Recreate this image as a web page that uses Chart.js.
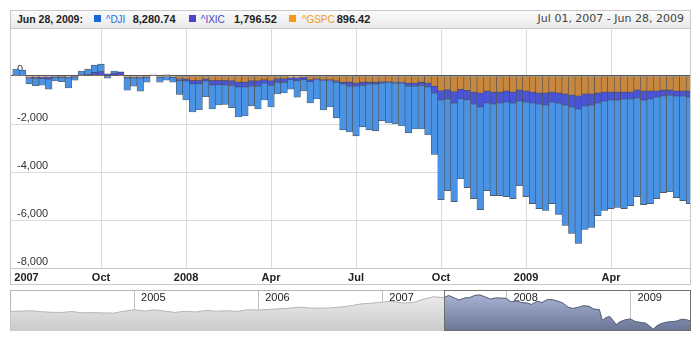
<!DOCTYPE html>
<html>
<head>
<meta charset="utf-8">
<title>^DJI, ^IXIC, ^GSPC weekly change</title>
<script src="https://cdn.jsdelivr.net/npm/chart.js@4.4.1/dist/chart.umd.min.js"></script>
<style>
  html, body { margin: 0; padding: 0; background: #fff; }
  body { position: relative; width: 700px; height: 340px; overflow: hidden;
         font-family: "Liberation Sans", Arial, sans-serif; }
  #header { position: absolute; left: 10px; top: 10px; width: 681px; height: 19px;
            box-sizing: border-box; border: 1px solid #c8c8c8;
            background: linear-gradient(#fbfbfb, #e9e9e9); z-index: 3; }
  #header span { position: absolute; top: 1px; font-size: 11px; line-height: 14px; white-space: nowrap; }
  #header .swatch { top: 3.5px; width: 7px; height: 7px; }
  #header .name { font-size: 10px; top: 1.5px; }
  #header .date { font-weight: bold; color: #222; font-size: 10.5px; }
  #header .val { font-weight: bold; color: #222; }
  #header .range { right: 6px; font-family: "DejaVu Sans", sans-serif; color: #444; }
  #mainWrap { position: absolute; left: 0; top: 0; width: 700px; height: 290px; }
  #frame { position: absolute; left: 10px; top: 28px; width: 681px; height: 257px;
           box-sizing: border-box; border: 1px solid #c8c8c8; pointer-events: none; z-index: 2; }
  #navWrap { position: absolute; left: 10px; top: 290px; width: 681px; height: 41px; }
  #navFrame { position: absolute; left: 10px; top: 290px; width: 681px; height: 41px;
              box-sizing: border-box; border: 1px solid #b8b8b8; pointer-events: none; }
</style>
</head>
<body>
<div id="header"></div>
<div id="mainWrap"><canvas id="main" width="700" height="290"></canvas></div>
<div id="frame"></div>
<div id="navFrame"></div>
<div id="navWrap"><canvas id="nav" width="681" height="41"></canvas></div>
<script>
// Weekly change of each index, stacked; week 0 = first week of July 2007
const gspcChange = [
  15, 10, -50, -45, -45, -45, -20, -25, -45, -15,
  15, 20, 25, 30, -20, 20, 25, -65, -60, -60,
  -30, 10, -30, 10, -40, -125, -125, -185, -185, -125,
  -185, -185, -185, -200, -255, -255, -200, -200, -160, -200,
  -115, -115, -75, -75, -35, -160, -115, -160, -160, -200,
  -255, -255, -295, -255, -255, -255, -230, -230, -255, -255,
  -295, -295, -255, -295, -420, -615, -575, -655, -550, -595,
  -670, -710, -625, -670, -670, -625, -670, -585, -625, -670,
  -710, -710, -670, -710, -750, -795, -835, -750, -750, -710,
  -670, -670, -670, -670, -670, -585, -625, -625, -625, -585,
  -585, -625, -625, -625
];
const ixicChange = [
  20, 15, -55, -60, -55, -100, -30, -30, -40, -25,
  25, 35, 115, 145, 90, 100, 135, -20, -20, -25,
  -20, 15, -20, 40, -20, -55, -85, -140, -140, -85,
  -190, -165, -190, -180, -205, -205, -220, -220, -135, -180,
  -140, -140, -85, -125, -125, -80, -45, -40, -40, -55,
  -80, -165, -125, -125, -80, -80, -65, -25, -40, -40,
  -125, -125, -125, -165, -290, -385, -385, -470, -395, -395,
  -495, -580, -500, -495, -455, -460, -455, -455, -460, -455,
  -455, -500, -415, -415, -460, -495, -540, -500, -460, -415,
  -370, -330, -330, -290, -290, -330, -375, -335, -250, -250,
  -210, -210, -210, -250
];
const djiChange = [
  255, 220, -220, -300, -280, -400, -160, -185, -415, -130,
  165, 230, 310, 320, -70, 85, 10, -505, -340, -545,
  -205, 25, -205, -170, -195, -590, -790, -1175, -1090, -655,
  -1000, -860, -805, -940, -1245, -1205, -830, -955, -705, -910,
  -495, -455, -385, -680, -465, -885, -800, -1215, -1090, -1490,
  -1910, -1910, -2075, -1740, -1910, -1950, -1575, -1700, -1705, -1785,
  -1950, -1785, -1825, -1995, -2560, -4150, -3815, -4110, -3335, -3660,
  -3945, -4275, -3650, -3820, -3860, -3940, -3985, -3530, -3940, -4190,
  -4360, -4395, -4230, -4645, -5020, -5270, -5600, -5145, -5100, -4690,
  -4565, -4525, -4480, -4565, -4440, -4110, -4360, -4355, -4235, -4025,
  -4025, -4230, -4355, -4440
];
const xTickWeeks = [1.6, 13, 26, 39, 52, 65, 78, 91];
const xTickLabels = ['2007', 'Oct', '2008', 'Apr', 'Jul', 'Oct', '2009', 'Apr'];
const yTickValues = [0, -2000, -4000, -6000, -8000];

// Header legend
const headerDate = 'Jun 28, 2009:';
const seriesNames = ['^DJI', '^IXIC', '^GSPC'];
const lastValues = ['8,280.74', '1,796.52', '896.42'];
const rangeText = 'Jul 01, 2007 - Jun 28, 2009';

// Navigator: ^DJI close, 2004 - 2009
const navDates = [
  '2004-01-02','2004-02-01','2004-03-01','2004-04-01','2004-05-01','2004-06-01',
  '2004-07-01','2004-08-01','2004-09-01','2004-10-01','2004-11-01','2004-12-01',
  '2005-01-01','2005-02-01','2005-03-01','2005-04-01','2005-05-01','2005-06-01',
  '2005-07-01','2005-08-01','2005-09-01','2005-10-01','2005-11-01','2005-12-01',
  '2006-01-01','2006-02-01','2006-03-01','2006-04-01','2006-05-01','2006-06-01',
  '2006-07-01','2006-08-01','2006-09-01','2006-10-01','2006-11-01','2006-12-01',
  '2007-01-01','2007-02-01','2007-03-01','2007-04-01','2007-05-01','2007-06-01',
  '2007-07-01','2007-07-15','2007-08-01','2007-08-15','2007-09-01','2007-09-15',
  '2007-10-01','2007-10-15','2007-11-01','2007-11-15','2007-12-01','2007-12-15',
  '2008-01-01','2008-01-15','2008-02-01','2008-02-15','2008-03-01','2008-03-15',
  '2008-04-01','2008-04-15','2008-05-01','2008-05-15','2008-06-01','2008-06-15',
  '2008-07-01','2008-07-15','2008-08-01','2008-08-15','2008-09-01','2008-09-15',
  '2008-10-01','2008-10-10','2008-10-20','2008-11-01','2008-11-20','2008-12-01',
  '2008-12-15','2009-01-01','2009-01-15','2009-02-01','2009-02-15','2009-03-01',
  '2009-03-09','2009-03-20','2009-04-01','2009-04-15','2009-05-01','2009-05-15',
  '2009-06-01','2009-06-15','2009-06-28'
];
const navDji = [
  10450, 10490, 10580, 10370, 10230, 10200,
  10400, 10120, 10170, 10100, 10050, 10450,
  10780, 10500, 10770, 10500, 10200, 10470,
  10300, 10640, 10480, 10570, 10440, 10800,
  10720, 10860, 10990, 11110, 11370, 11170,
  11150, 11180, 11380, 11680, 12080, 12220,
  12460, 12620, 12270, 12350, 13060, 13630,
  13410, 13900, 13360, 12900, 13360, 13440,
  13930, 14000, 13560, 13100, 13370, 13340,
  13260, 12500, 12740, 12350, 12260, 11950,
  12650, 12350, 13010, 12990, 12640, 12270,
  11350, 11060, 11330, 11660, 11540, 10920,
  10830, 8450, 9030, 9320, 7550, 8150,
  8560, 8780, 8200, 8000, 7850, 7060,
  6550, 7280, 7760, 8030, 8210, 8270,
  8720, 8610, 8280.74
];
const navYearTicks = [2005, 2006, 2007, 2008, 2009];
const navStartDate = '2004-01-01';
const selectionStartDate = '2007-07-01';
const selectionEndDate = '2009-06-28';

const colors = {
  dji: '#4a92e4', ixic: '#4a54d6', gspc: '#c8873f',
  djiKey: '#1668d8', ixicKey: '#4a46c8', gspcKey: '#f79a1c',
  djiText: '#1d6fdc', ixicText: '#4444c8', gspcText: '#f09a1e'
};

// ---- header legend ----
(function buildHeader() {
  const h = document.getElementById('header');
  const add = (cls, text, left, style) => {
    const s = document.createElement('span');
    s.className = cls;
    if (text) s.textContent = text;
    if (left !== null) s.style.left = left + 'px';
    Object.assign(s.style, style || {});
    h.appendChild(s);
  };
  add('date', headerDate, 6);
  const keyColors = [colors.djiKey, colors.ixicKey, colors.gspcKey];
  const textColors = [colors.djiText, colors.ixicText, colors.gspcText];
  const swatchLeft = [83, 177.7, 278];
  const nameLeft = [94.7, 189.7, 290.7];
  const valueLeft = [121.7, 223, 325.7];
  seriesNames.forEach((name, i) => {
    add('swatch', '', swatchLeft[i], { background: keyColors[i] });
    add('name', name, nameLeft[i], { color: textColors[i] });
    add('val', lastValues[i], valueLeft[i]);
  });
  add('range', rangeText, null);
})();

Chart.defaults.font.family = '"Liberation Sans", Arial, sans-serif';
Chart.defaults.font.size = 11;

// ---- main stacked column chart ----
const weeks = djiChange.map((_, i) => i);
const toPoints = arr => arr.map((v, i) => ({ x: weeks[i], y: v }));
const barStyle = {
  borderColor: '#4d4d4d', borderWidth: 0.6, borderSkipped: false,
  barPercentage: 1, categoryPercentage: 1, clip: 0
};

new Chart(document.getElementById('main'), {
  type: 'bar',
  data: {
    datasets: [
      Object.assign({ label: '^GSPC', data: toPoints(gspcChange), backgroundColor: colors.gspc }, barStyle),
      Object.assign({ label: '^IXIC', data: toPoints(ixicChange), backgroundColor: colors.ixic }, barStyle),
      Object.assign({ label: '^DJI', data: toPoints(djiChange), backgroundColor: colors.dji }, barStyle)
    ]
  },
  options: {
    responsive: false, animation: false, devicePixelRatio: 1,
    layout: { padding: { left: 11, top: 28, right: 10, bottom: 6 } },
    plugins: { legend: { display: false }, tooltip: { enabled: false } },
    scales: {
      x: {
        type: 'linear', stacked: true, offset: false, min: -0.77, max: 103.08,
        afterBuildTicks: s => { s.ticks = xTickWeeks.map(v => ({ value: v })); },
        afterFit: s => { s.height = 16; s.paddingLeft = 0; s.paddingRight = 0; },
        ticks: {
          autoSkip: false, maxRotation: 0, padding: 3, color: '#222',
          font: { size: 11, weight: 'bold' },
          callback: (v, i) => xTickLabels[i]
        },
        grid: {
          offset: false, drawTicks: false, lineWidth: 1,
          color: c => (c.index === 0 ? 'rgba(0,0,0,0)' : '#dadeda')
        },
        border: { display: true, color: '#c8c8c8' }
      },
      y: {
        stacked: true, min: -8000, max: 2000, z: 1,
        afterFit: s => { s.width = 0; s.paddingTop = 0; s.paddingBottom = 0; },
        afterBuildTicks: s => { s.ticks = yTickValues.map(v => ({ value: v })); },
        ticks: {
          mirror: true, padding: 6, labelOffset: -6, color: '#333',
          font: { size: 11 },
          callback: v => v.toLocaleString('en-US')
        },
        grid: {
          drawTicks: false, lineWidth: 1,
          color: c => (c.tick && c.tick.value === 0 ? '#555555' : 'rgba(150,162,150,0.36)')
        },
        border: { display: false }
      }
    }
  }
});

// ---- navigator ----
function yearFraction(str) {
  const [y, m, d] = str.split('-').map(Number);
  const t = Date.UTC(y, m - 1, d), a = Date.UTC(y, 0, 1), b = Date.UTC(y + 1, 0, 1);
  return y + (t - a) / (b - a);
}
const navX = navDates.map(yearFraction);
const selStart = yearFraction(selectionStartDate);
const navAll = navX.map((x, i) => ({ x, y: navDji[i] }));
const navSel = navAll.filter(p => p.x >= selStart);

function vGradient(stops) {
  return c => {
    const a = c.chart.chartArea;
    if (!a) return stops[stops.length - 1];
    const g = c.chart.ctx.createLinearGradient(0, a.top, 0, a.bottom);
    stops.forEach((s, i) => g.addColorStop(i / (stops.length - 1), s));
    return g;
  };
}

const selectionBox = {
  id: 'selectionBox',
  afterDraw(chart) {
    const { ctx, chartArea: a, scales } = chart;
    const x0 = Math.round(scales.x.getPixelForValue(selStart));
    ctx.save();
    ctx.strokeStyle = '#6e6e6e';
    ctx.lineWidth = 1;
    ctx.strokeRect(x0 + 0.5, a.top + 0.5, a.right - x0 - 1, a.bottom - a.top - 1);
    ctx.restore();
  }
};

// the selected range is listed first so it is painted on top of the full history
new Chart(document.getElementById('nav'), {
  type: 'line',
  data: {
    datasets: [
      { data: navSel, fill: 'start', borderColor: '#56607c', borderWidth: 1, pointRadius: 0,
        backgroundColor: vGradient(['#b0bbdb', '#6a7595']), clip: 0 },
      { data: navAll, fill: 'start', borderColor: '#b5b5b5', borderWidth: 1, pointRadius: 0,
        backgroundColor: vGradient(['#f0f0f0', '#cbcbcb']), clip: 0 }
    ]
  },
  options: {
    responsive: false, animation: false, devicePixelRatio: 1,
    layout: { padding: 0 },
    plugins: { legend: { display: false }, tooltip: { enabled: false } },
    scales: {
      x: {
        type: 'linear', position: 'top', z: 1, offset: false,
        min: yearFraction(navStartDate), max: yearFraction(selectionEndDate),
        afterFit: s => { s.height = 0; s.paddingLeft = 0; s.paddingRight = 0; },
        afterBuildTicks: s => { s.ticks = navYearTicks.map(v => ({ value: v })); },
        ticks: {
          mirror: true, align: 'start', labelOffset: 7, padding: 1,
          color: '#222', font: { size: 11 },
          callback: v => String(v)
        },
        grid: { drawTicks: false, color: 'rgba(175,175,175,0.75)' },
        border: { display: false }
      },
      y: { display: false, min: 6150, max: 15100 }
    }
  },
  plugins: [selectionBox]
});
</script>
</body>
</html>
